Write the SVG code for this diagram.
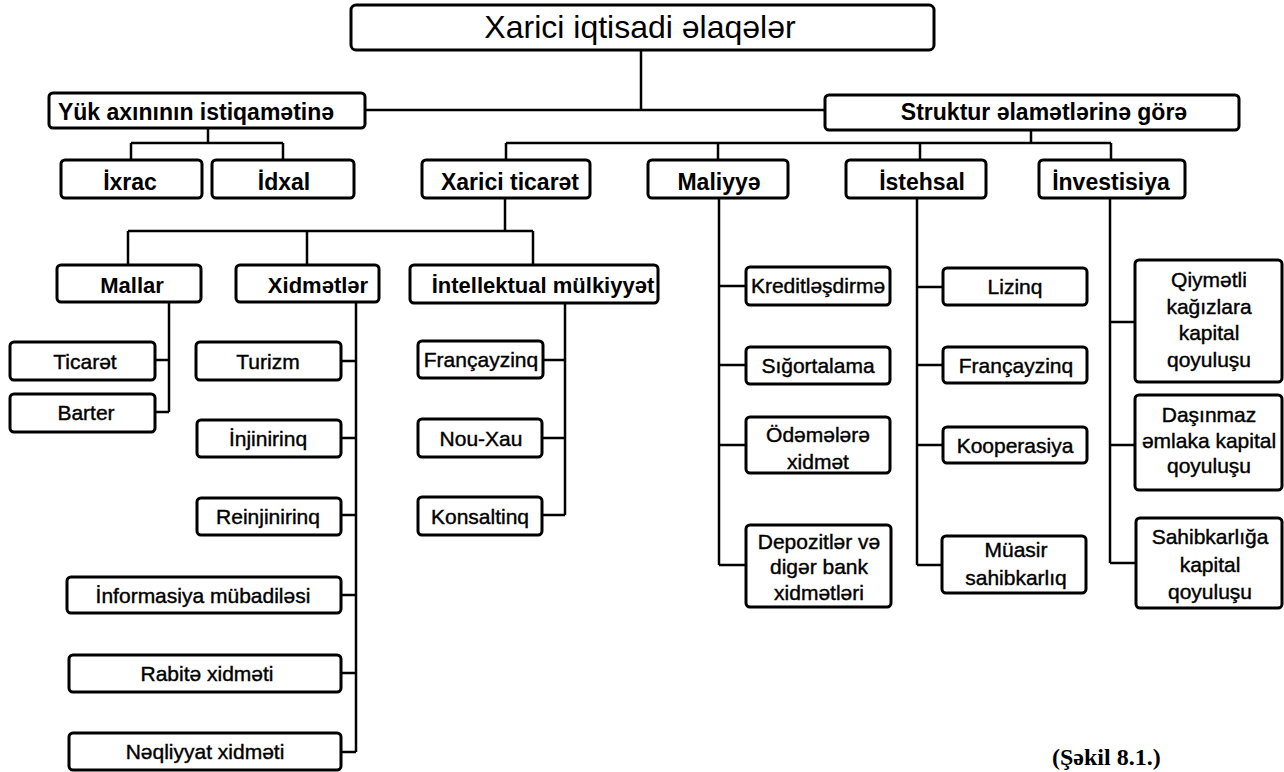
<svg xmlns="http://www.w3.org/2000/svg" width="1284" height="772" viewBox="0 0 1284 772">
<style>
.box{fill:#fff;stroke:#000;stroke-width:3}
.ln{stroke:#000;stroke-width:2.5;fill:none}
.t{font-family:"Liberation Sans",Arial,sans-serif;fill:#000;text-anchor:middle}
.h1{font-size:32px}
.hb{font-size:23px;font-weight:bold}
.hc{font-size:22px;font-weight:bold}
.lf{font-size:21px;stroke:#000;stroke-width:0.4}
.cap{font-family:"Liberation Serif","Times New Roman",serif;font-size:24px;font-weight:bold;fill:#000}
</style>
<rect width="1284" height="772" fill="#fff"/>
<g id="connectors" class="ln">
<path d="M641 50 V110 M365 110 H825"/>
<path d="M208 128 V143 M131 143 H283 M131 143 V160 M283 143 V160"/>
<path d="M1031 130 V143 M506 143 H1111 M506 143 V160 M718 143 V160 M920 143 V160 M1111 143 V160"/>
<path d="M505 198 V231 M128 231 H533 M128 231 V265 M307 231 V265 M533 231 V265"/>
<path d="M169 302 V412 M155 360 H169 M155 412 H169"/>
<path d="M356 302 V752 M341 361 H356 M341 438 H356 M341 515 H356 M341 595 H356 M341 673 H356 M341 752 H356"/>
<path d="M565 303 V515 M543 360 H565 M542 438 H565 M542 515 H565"/>
<path d="M719 198 V565 M719 286 H746 M719 365 H746 M719 445 H746 M719 565 H746"/>
<path d="M917 198 V565 M917 287 H943 M917 365 H943 M917 445 H943 M917 565 H942"/>
<path d="M1110 198 V563 M1110 322 H1135 M1110 445 H1135 M1110 563 H1136"/>
</g>
<g id="n-root"><rect class="box" x="351" y="5" width="583" height="45" rx="5"/><text class="t h1" x="640" y="38">Xarici iqtisadi əlaqələr</text></g>
<g id="n-yuk"><rect class="box" x="49" y="93" width="316" height="35" rx="4"/><text class="t hb" x="196" y="120">Yük axınının istiqamətinə</text></g>
<g id="n-struktur"><rect class="box" x="825" y="95" width="414" height="35" rx="4"/><text class="t hb" x="1044" y="120">Struktur əlamətlərinə görə</text></g>
<g id="n-ixrac"><rect class="box" x="61" y="160" width="141" height="38" rx="4"/><text class="t hb" x="130" y="190">İxrac</text></g>
<g id="n-idxal"><rect class="box" x="212" y="160" width="142" height="38" rx="4"/><text class="t hb" x="284" y="190">İdxal</text></g>
<g id="n-ticaret"><rect class="box" x="422" y="160" width="168" height="38" rx="4"/><text class="t hb" x="510" y="190">Xarici ticarət</text></g>
<g id="n-maliyye"><rect class="box" x="648" y="160" width="140" height="38" rx="4"/><text class="t hb" x="719" y="190">Maliyyə</text></g>
<g id="n-istehsal"><rect class="box" x="846" y="160" width="140" height="38" rx="4"/><text class="t hb" x="922" y="190">İstehsal</text></g>
<g id="n-investisiya"><rect class="box" x="1039" y="160" width="146" height="38" rx="4"/><text class="t hb" x="1111" y="190">İnvestisiya</text></g>
<g id="n-mallar"><rect class="box" x="57" y="265" width="144" height="37" rx="4"/><text class="t hc" x="132" y="293">Mallar</text></g>
<g id="n-xidmetler"><rect class="box" x="236" y="265" width="143" height="37" rx="4"/><text class="t hc" x="318" y="293">Xidmətlər</text></g>
<g id="n-intellektual"><rect class="box" x="410" y="265" width="248" height="38" rx="4"/><text class="t hc" x="543" y="293">İntellektual mülkiyyət</text></g>
<g id="n-ticaret2"><rect class="box" x="10" y="342" width="145" height="38" rx="4"/><text class="t lf" x="85" y="369">Ticarət</text></g>
<g id="n-barter"><rect class="box" x="10" y="394" width="145" height="38" rx="4"/><text class="t lf" x="86" y="420">Barter</text></g>
<g id="n-turizm"><rect class="box" x="196" y="342" width="145" height="38" rx="4"/><text class="t lf" x="268" y="369">Turizm</text></g>
<g id="n-injinirinq"><rect class="box" x="197" y="420" width="144" height="37" rx="4"/><text class="t lf" x="268" y="446">İnjinirinq</text></g>
<g id="n-reinjinirinq"><rect class="box" x="197" y="498" width="144" height="37" rx="4"/><text class="t lf" x="268" y="524">Reinjinirinq</text></g>
<g id="n-informasiya"><rect class="box" x="67" y="577" width="274" height="36" rx="4"/><text class="t lf" x="203" y="603">İnformasiya mübadiləsi</text></g>
<g id="n-rabite"><rect class="box" x="69" y="655" width="272" height="37" rx="4"/><text class="t lf" x="207" y="681">Rabitə xidməti</text></g>
<g id="n-neqliyyat"><rect class="box" x="69" y="733" width="272" height="37" rx="4"/><text class="t lf" x="205" y="759">Nəqliyyat xidməti</text></g>
<g id="n-francayzinq1"><rect class="box" x="418" y="341" width="125" height="37" rx="4"/><text class="t lf" x="481" y="367">Françayzinq</text></g>
<g id="n-nouxau"><rect class="box" x="418" y="419" width="124" height="38" rx="4"/><text class="t lf" x="481" y="446">Nou-Xau</text></g>
<g id="n-konsaltinq"><rect class="box" x="418" y="497" width="124" height="38" rx="4"/><text class="t lf" x="480" y="524">Konsaltinq</text></g>
<g id="n-kredit"><rect class="box" x="746" y="267" width="144" height="38" rx="4"/><text class="t lf" x="818" y="293">Kreditləşdirmə</text></g>
<g id="n-sigorta"><rect class="box" x="746" y="347" width="144" height="37" rx="4"/><text class="t lf" x="818" y="373">Sığortalama</text></g>
<g id="n-odeme"><rect class="box" x="746" y="417" width="144" height="56" rx="4"/><text class="t lf" x="818" y="442">Ödəmələrə</text><text class="t lf" x="818" y="469">xidmət</text></g>
<g id="n-depozit"><rect class="box" x="746" y="525" width="145" height="82" rx="4"/><text class="t lf" x="819" y="549">Depozitlər və</text><text class="t lf" x="819" y="574">digər bank</text><text class="t lf" x="819" y="600">xidmətləri</text></g>
<g id="n-lizinq"><rect class="box" x="943" y="268" width="144" height="37" rx="4"/><text class="t lf" x="1015" y="294">Lizinq</text></g>
<g id="n-francayzinq2"><rect class="box" x="943" y="347" width="144" height="36" rx="4"/><text class="t lf" x="1016" y="373">Françayzinq</text></g>
<g id="n-kooperasiya"><rect class="box" x="943" y="427" width="144" height="36" rx="4"/><text class="t lf" x="1015" y="453">Kooperasiya</text></g>
<g id="n-muasir"><rect class="box" x="942" y="536" width="144" height="57" rx="4"/><text class="t lf" x="1016" y="557">Müasir</text><text class="t lf" x="1016" y="585">sahibkarlıq</text></g>
<g id="n-qiymetli"><rect class="box" x="1135" y="260" width="147" height="122" rx="4"/><text class="t lf" x="1209" y="287">Qiymətli</text><text class="t lf" x="1209" y="314">kağızlara</text><text class="t lf" x="1209" y="340">kapital</text><text class="t lf" x="1209" y="367">qoyuluşu</text></g>
<g id="n-dasinmaz"><rect class="box" x="1135" y="395" width="147" height="95" rx="4"/><text class="t lf" x="1209" y="422">Daşınmaz</text><text class="t lf" x="1209" y="448">əmlaka kapital</text><text class="t lf" x="1209" y="473">qoyuluşu</text></g>
<g id="n-sahibkarliga"><rect class="box" x="1136" y="518" width="146" height="90" rx="4"/><text class="t lf" x="1210" y="544">Sahibkarlığa</text><text class="t lf" x="1210" y="572">kapital</text><text class="t lf" x="1210" y="599">qoyuluşu</text></g>
<text class="cap" x="1052" y="765">(Şəkil 8.1.)</text>
</svg>
